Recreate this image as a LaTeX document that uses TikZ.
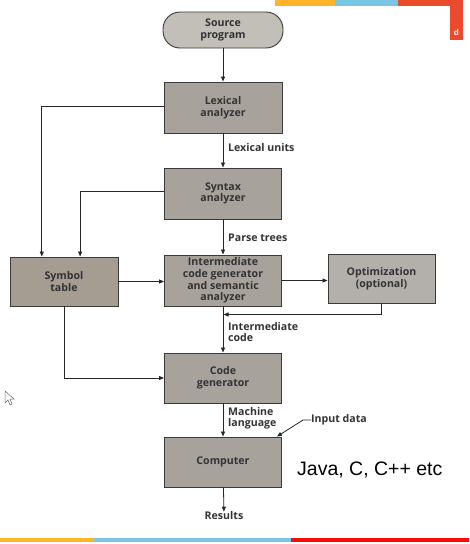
\documentclass[tikz,border=0pt]{standalone}
\usepackage{fontspec}
\setmainfont{Open Sans}
\newfontfamily\arialfont{Liberation Sans}
\usetikzlibrary{arrows.meta,calc}
\definecolor{boxgray}{HTML}{A7A29C}
\definecolor{srcgray}{HTML}{C2BEB8}
\definecolor{symgray}{HTML}{A59C92}
\definecolor{optgray}{HTML}{B3AFAA}
\definecolor{edgegray}{HTML}{3A3A3A}
\definecolor{barorange}{HTML}{FBB526}
\definecolor{barblue}{HTML}{7CC4E1}
\definecolor{barred}{HTML}{FF0A0A}
\definecolor{topred}{HTML}{EC4A2E}
\tikzset{
  stagebox/.style={draw=edgegray, line width=0.9pt, fill=boxgray, align=center,
    font=\fontsize{10.6}{11.6}\selectfont\bfseries, text=black!80, inner sep=1pt},
  flowlabel/.style={font=\fontsize{10.6}{11.6}\selectfont\bfseries, text=black!80, align=left, inner sep=0pt},
  arr/.style={-{Triangle[length=5pt,width=4pt]}, line width=0.8pt, draw=black!85},
}
\begin{document}
\begin{tikzpicture}[x=1pt,y=-1pt]
\useasboundingbox (0,0) rectangle (469,544);
\fill[white] (0,0) rectangle (469,544);
% decorative bars
\fill[barorange] (275,0) rectangle (335,6);
\fill[barblue] (335,0) rectangle (398,6);
\fill[topred] (398,0) rectangle (463,6);
\fill[topred] (450,0) rectangle (463,40);
\node[text=white, font=\fontsize{8}{8}\selectfont\bfseries, inner sep=0pt] (dmark) at (456.5,32) {d};
\fill[barorange] (0,538) rectangle (94,542);
\fill[barblue] (94,538) rectangle (291,542);
\fill[barred] (291,538) rectangle (469,542);
% cursor
\draw[black!60, fill=white, line width=0.5pt] (5,391) -- (5,403) -- (8,400) -- (10,405) -- (12,404) -- (10,399) -- (14,399) -- cycle;

% nodes
\node[stagebox, fill=srcgray, rounded corners=17pt, minimum width=120pt, minimum height=36pt] (src) at (223,30) {Source\\program};
\node[stagebox, minimum width=118pt, minimum height=51pt] (lex) at (223,107.5) {Lexical\\analyzer};
\node[stagebox, minimum width=117pt, minimum height=51pt] (syn) at (223,193.5) {Syntax\\analyzer};
\node[stagebox, fill=symgray, minimum width=108pt, minimum height=49pt] (sym) at (64,281.5) {Symbol\\table};
\node[stagebox, minimum width=117pt, minimum height=51pt] (inter) at (223,280.5) {Intermediate\\code generator\\and semantic\\analyzer};
\node[stagebox, fill=optgray, minimum width=107pt, minimum height=49pt] (opt) at (381.5,278.5) {Optimization\\(optional)};
\node[stagebox, minimum width=117pt, minimum height=50pt] (cg) at (223,378) {Code\\generator};
\node[stagebox, minimum width=117pt, minimum height=50pt] (comp) at (223,462) {Computer};
\node[flowlabel] (res) at (224,516) {Results};

\node[flowlabel, anchor=west] (lu) at (228,148) {Lexical units};
\node[flowlabel, anchor=west] (pt) at (228,238) {Parse trees};
\node[flowlabel, anchor=north west] (ic) at (228,322) {Intermediate\\code};
\node[flowlabel, anchor=north west] (ml) at (228,407) {Machine\\language};
\node[flowlabel, anchor=west] (inp) at (311,420) {Input data};
\node[font=\arialfont\fontsize{19.5}{22}\selectfont, anchor=west, inner sep=0pt] (java) at (297,470) {Java, C, C++ etc};

% connectors
\draw[arr] (src) -- (lex);
\draw[arr] (lex) -- (syn);
\draw[arr] (syn) -- (inter);
\draw[arr] (inter) -- (cg);
\draw[arr] (cg) -- (comp);
\draw[arr] (comp) -- (res);

\coordinate (s1) at ($(sym.north west)!0.296!(sym.north east)$);
\coordinate (s2) at ($(sym.north west)!0.648!(sym.north east)$);
\draw[arr] ([yshift=1.5pt]lex.west) -| (s1);
\draw[arr] ([yshift=2.5pt]syn.west) -| (s2);
\draw[arr] (sym.east) -- (sym.east -| inter.west);
\draw[arr] (inter.east) -- (inter.east -| opt.west);
\coordinate (back) at ($(inter.south)!0.5!(cg.north)$);
\coordinate (backend) at ([yshift=15pt]back);
\draw[arr] (opt.south) |- ([xshift=0.5pt]backend);
\draw[arr] (sym.south) |- (cg.west);
\draw[arr] (inp.west) -- ++(-8,0) -- ($(comp.north east)+(-5,0)$);
\end{tikzpicture}
\end{document}
